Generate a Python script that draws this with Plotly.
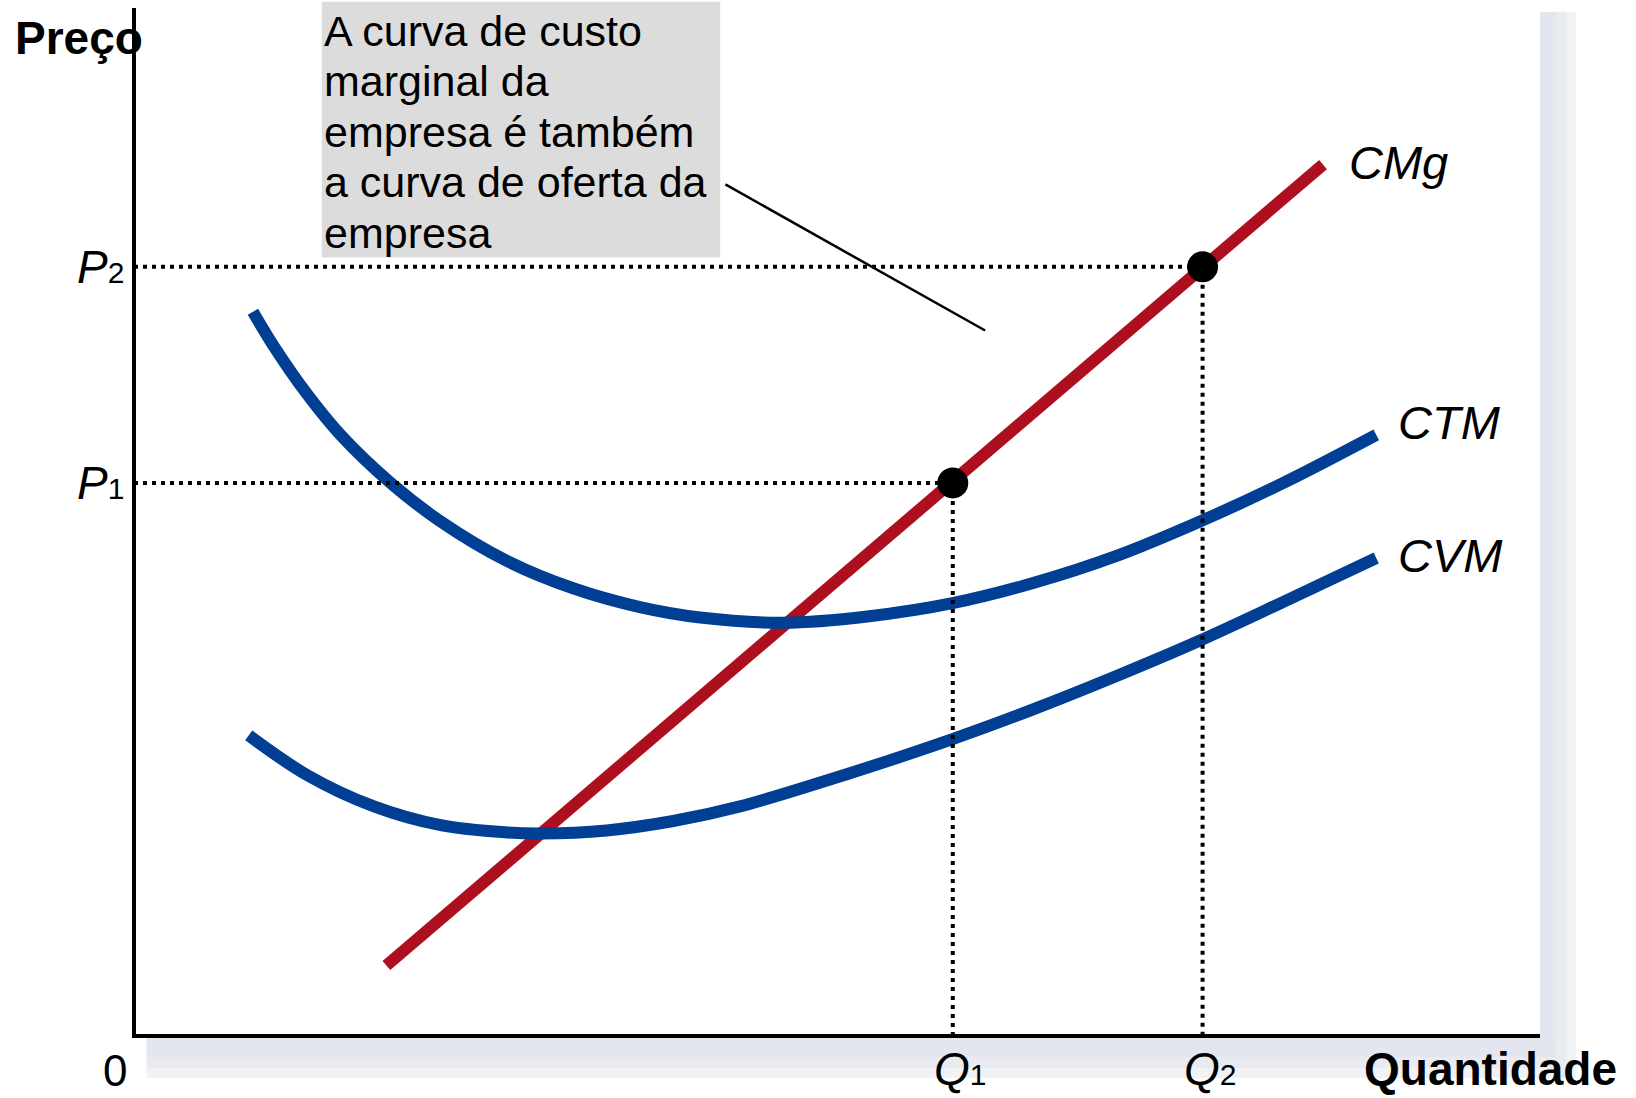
import plotly.graph_objects as go

# ---------------- data (quantity, price) ----------------
cmg_q = [2.42, 11.40]
cmg_p = [0.675, 8.35]

ctm_q = [1.14, 1.34, 1.66, 1.98, 2.46, 2.94, 3.58, 4.21, 4.85, 5.43, 6.23, 7.03, 7.86, 8.62, 9.42, 10.22, 11.02, 11.91]
ctm_p = [6.94, 6.61, 6.15, 5.76, 5.30, 4.93, 4.55, 4.29, 4.11, 4.01, 3.96, 4.02, 4.15, 4.34, 4.60, 4.93, 5.30, 5.76]

cvm_q = [1.10, 1.66, 2.30, 2.94, 3.58, 3.90, 4.53, 5.17, 5.81, 6.87, 7.86, 8.62, 9.42, 10.22, 11.02, 11.91]
cvm_p = [2.88, 2.50, 2.20, 2.02, 1.95, 1.94, 1.97, 2.06, 2.20, 2.52, 2.85, 3.13, 3.45, 3.79, 4.16, 4.58]

eq_q = [7.85, 10.245]
eq_p = [5.30, 7.37]
eq_sub = ["1", "2"]

curve_names = ["CMg", "CTM", "CVM"]
box_lines = ["A curva de custo", "marginal da", "empresa é também",
             "a curva de oferta da", "empresa"]
x_title = "Quantidade"
y_title = "Preço"
origin_label = "0"

# ---------------- layout constants ----------------
W_FIG, H_FIG = 1636, 1098
X0_PG, X1_PG = 133.6, 1540.1  # plot area on the page (px)
Y0_PG, Y1_PG = 8.3, 1036.1
ML, MT = X0_PG, Y0_PG
MR, MB = W_FIG - X1_PG, H_FIG - Y1_PG
UNIT = 104.34
XR = [0, (X1_PG - X0_PG) / UNIT]
YR = [0, (Y1_PG - Y0_PG) / UNIT]
FONT = "Liberation Sans, Arial, Helvetica, sans-serif"
RED = "#AE0F1E"
BLUE = "#003F93"


def px(v):
    return (v - XR[0]) / (XR[1] - XR[0])


def py(v):
    return (v - YR[0]) / (YR[1] - YR[0])


def pxp(fx):
    return (fx - X0_PG) / (X1_PG - X0_PG)


def pyp(fy):
    return (Y1_PG - fy) / (Y1_PG - Y0_PG)


fig = go.Figure()

# curves
fig.add_trace(go.Scatter(x=cmg_q, y=cmg_p, mode="lines",
                         line=dict(color=RED, width=12), hoverinfo="skip"))
for qq, pp in [(ctm_q, ctm_p), (cvm_q, cvm_p)]:
    fig.add_trace(go.Scatter(x=qq, y=pp, mode="lines",
                             line=dict(color=BLUE, width=12, shape="spline", smoothing=1.0),
                             hoverinfo="skip"))

# dotted guide lines
for q, p in zip(eq_q, eq_p):
    fig.add_trace(go.Scatter(x=[0, q], y=[p, p], mode="lines",
                             line=dict(color="black", width=4, dash="4px,5px"),
                             hoverinfo="skip"))
    fig.add_trace(go.Scatter(x=[q, q], y=[p, 0], mode="lines",
                             line=dict(color="black", width=4, dash="4px,5px"),
                             hoverinfo="skip"))

# equilibrium points
fig.add_trace(go.Scatter(x=eq_q, y=eq_p, mode="markers",
                         marker=dict(color="black", size=31, line=dict(width=0)),
                         hoverinfo="skip"))

shapes = []
# drop shadow of the frame
for (a, b, c) in [(1540, 1556, "#e3e6ee"), (1556, 1567, "#e9ebf1"), (1567, 1576, "#f1f2f6")]:
    shapes.append(dict(type="rect", xref="paper", yref="paper",
                       x0=pxp(a), x1=pxp(b), y0=pyp(1078), y1=pyp(12),
                       fillcolor=c, line=dict(width=0), layer="below"))
for (a, b, c) in [(1038, 1057, "#e3e6ee"), (1057, 1068, "#e9ebf1"), (1068, 1078, "#f1f2f6")]:
    shapes.append(dict(type="rect", xref="paper", yref="paper",
                       x0=pxp(146), x1=pxp(1556), y0=pyp(b), y1=pyp(a),
                       fillcolor=c, line=dict(width=0), layer="below"))

# axes drawn exactly on the plot edges
shapes.append(dict(type="line", xref="paper", yref="paper",
                   x0=0, x1=0, y0=pyp(Y1_PG + 2), y1=1,
                   line=dict(color="black", width=4)))
shapes.append(dict(type="line", xref="paper", yref="paper",
                   x0=pxp(X0_PG - 2), x1=1, y0=0, y1=0,
                   line=dict(color="black", width=4)))

# gray annotation box and leader line
shapes.append(dict(type="rect", xref="paper", yref="paper",
                   x0=px(1.80), x1=px(5.62), y0=py(7.46), y1=py(9.91),
                   fillcolor="#dcdcdc", line=dict(width=0), layer="below"))
shapes.append(dict(type="line", xref="paper", yref="paper",
                   x0=px(5.67), y0=py(8.16), x1=px(8.16), y1=py(6.76),
                   line=dict(color="black", width=2.5)))

annotations = []


def ann(x, y, text, size, xanchor="left", yanchor="middle"):
    annotations.append(dict(x=x, y=y, xref="paper", yref="paper", text=text,
                            showarrow=False, xanchor=xanchor, yanchor=yanchor,
                            font=dict(family=FONT, size=size, color="black")))


# text box lines
line_p = [9.63, 9.15, 8.66, 8.18, 7.69]
for t, yy in zip(box_lines, line_p):
    ann(px(1.80), py(yy), t, 43)

# curve labels
ann(px(cmg_q[-1] + 0.23), py(cmg_p[-1] + 0.02), "<i>" + curve_names[0] + "</i>", 47)
ann(px(ctm_q[-1] + 0.19), py(ctm_p[-1] + 0.12), "<i>" + curve_names[1] + "</i>", 47)
ann(px(cvm_q[-1] + 0.19), py(cvm_p[-1] + 0.02), "<i>" + curve_names[2] + "</i>", 47)

# bottom labels sit on the lower edge of the page
BOTTOM = pyp(H_FIG - 1)
for q, p, s in zip(eq_q, eq_p, eq_sub):
    ann(px(-0.08), py(p), '<i>P</i><span style="font-size:30px">' + s + '</span>', 46,
        xanchor="right")
    ann(px(q + 0.07), BOTTOM, '<i>Q</i><span style="font-size:30px">' + s + '</span>', 46,
        xanchor="center", yanchor="bottom")

ann(px(-0.18), BOTTOM, origin_label, 44, xanchor="center", yanchor="bottom")
ann(px(11.77), BOTTOM, "<b>" + x_title + "</b>", 46, yanchor="bottom")
ann(px(-1.16), py(9.56), "<b>" + y_title + "</b>", 46)

fig.update_layout(
    width=W_FIG, height=H_FIG,
    margin=dict(l=ML, r=MR, t=MT, b=MB, pad=0),
    paper_bgcolor="white", plot_bgcolor="white",
    showlegend=False,
    shapes=shapes,
    annotations=annotations,
    xaxis=dict(range=XR, showgrid=False, zeroline=False, showticklabels=False,
               ticks="", showline=False, fixedrange=True),
    yaxis=dict(range=YR, showgrid=False, zeroline=False, showticklabels=False,
               ticks="", showline=False, fixedrange=True),
)

fig.write_html(
    "out.html",
    config={"displayModeBar": False},
    post_script="document.body.style.margin='0px';document.body.style.overflow='hidden';",
)
